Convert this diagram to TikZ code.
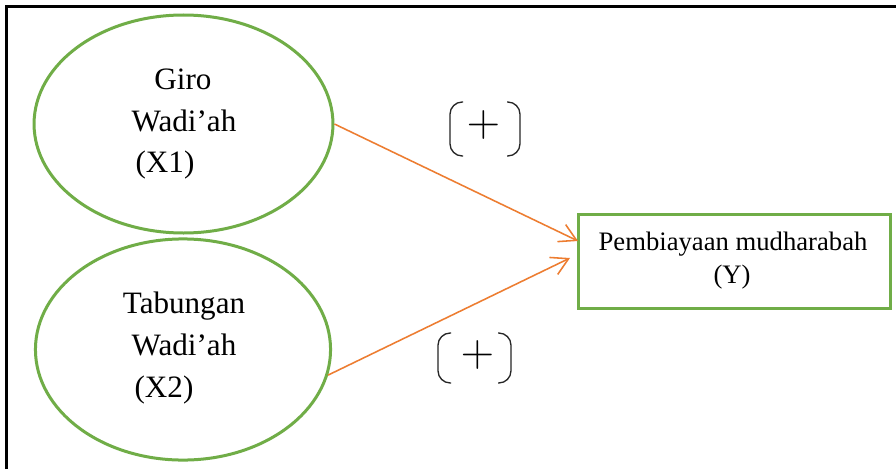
\documentclass[tikz,border=0pt]{standalone}
\usepackage{fontspec}
\setmainfont{Liberation Serif}
\usetikzlibrary{arrows.meta,shapes.geometric}
\definecolor{grn}{HTML}{70AD47}
\definecolor{org}{HTML}{ED7D31}
\begin{document}
\begin{tikzpicture}[x=0.45pt,y=-0.45pt,
  oval/.style={draw=grn,line width=1.35pt,ellipse,inner sep=0pt},
  outbox/.style={draw=grn,line width=1.35pt,rectangle,inner sep=0pt},
  bigtxt/.style={inner sep=0pt,anchor=base,font=\fontsize{14}{17}\selectfont},
  smalltxt/.style={inner sep=0pt,anchor=base,font=\fontsize{12}{14}\selectfont},
  arr/.style={draw=org,line width=0.7pt,-{Straight Barb[length=7.5pt,width=8.5pt]}},
  brk/.style={draw=black!85,line width=0.6pt,rounded corners=5.5pt},
  plustxt/.style={inner sep=0pt,font=\fontsize{22}{22}\selectfont}]
\useasboundingbox (0,0) rectangle (896,469);
\fill[white] (0,0) rectangle (896,469);
% frame
\draw[line width=1.2pt] (6.5,469) -- (6.5,6.5) -- (896,6.5);
% ellipses
\node[oval,minimum width=134.5pt,minimum height=98.1pt] (e1) at (183.5,124) {};
\node[oval,minimum width=132.8pt,minimum height=99.5pt] (e2) at (183,349.5) {};
% box
\node[outbox,minimum width=140.4pt,minimum height=41.9pt] (y) at (734,261.5) {};
% texts
\node[bigtxt] (g1) at (183,89) {Giro};
\node[bigtxt] (g2) at (184,131) {Wadi’ah};
\node[bigtxt] (g3) at (165,172) {(X1)};
\node[bigtxt] (t1) at (184,313) {Tabungan};
\node[bigtxt] (t2) at (184,355) {Wadi’ah};
\node[bigtxt] (t3) at (164,397) {(X2)};
\node[smalltxt] (p1) at (733,250) {Pembiayaan mudharabah};
\node[smalltxt] (p2) at (732,283) {(Y)};
% arrows
\coordinate (h1) at (578,241);
\coordinate (h2) at (570,258);
\draw[arr] (e1.east) -- (h1);
\draw[arr] (e2.-10.4) -- (h2);
% signs
\draw[brk] (463,102) -- (450,102) -- (450,156) -- (463,156);
\draw[brk] (507,102) -- (520,102) -- (520,156) -- (507,156);
\node[plustxt] (s1) at (483.5,124.5) {$+$};
\draw[brk] (451,333) -- (438,333) -- (438,383) -- (451,383);
\draw[brk] (498,333) -- (511,333) -- (511,383) -- (498,383);
\node[plustxt] (s2) at (477.5,354.5) {$+$};
\end{tikzpicture}
\end{document}
